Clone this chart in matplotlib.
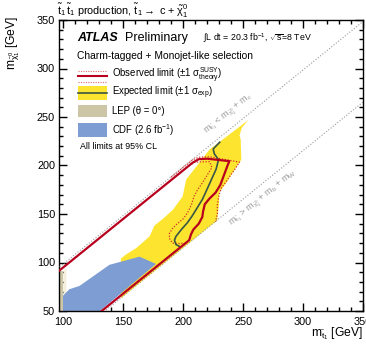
import numpy as np
import matplotlib
matplotlib.use('Agg')
import matplotlib.pyplot as plt
from matplotlib.patches import Rectangle, Polygon
from matplotlib.lines import Line2D

plt.rcParams['font.family'] = ['Liberation Sans', 'DejaVu Sans']
plt.rcParams['mathtext.fontset'] = 'custom'
plt.rcParams['mathtext.rm'] = 'Liberation Sans'
plt.rcParams['mathtext.it'] = 'Liberation Sans'
plt.rcParams['mathtext.bf'] = 'Liberation Sans:bold'
plt.rcParams['mathtext.sf'] = 'Liberation Sans'

# ---------------- data (GeV) ----------------
m_c = 1.5
m_b_plus_m_W = 84.6

x_ticks = [100, 150, 200, 250, 300, 350]
y_ticks = [50, 100, 150, 200, 250, 300, 350]

lep_x = [96, 100, 100, 96]
lep_y = [50, 50, 91, 91]
lep_light_x = [100, 102.5, 102.5, 100]
lep_light_y = [50, 50, 93.5, 91]

cdf_x = [97.7, 97.7, 100, 105, 113.5, 124.6, 138.5, 163.5, 177.4, 130.5]
cdf_y = [50, 63, 66, 72.4, 75.8, 85.5, 97.6, 106, 98.5, 50]

exp_band_x = [254.5, 222, 211, 202.5, 199.5, 191.5, 184, 176, 172, 161, 152, 148,
              148, 228.6, 228.6, 230, 230, 236, 241, 248.5, 248, 247, 249, 254.5]
exp_band_y = [247, 216.5, 199, 185.5, 168, 154.5, 146, 138, 127, 115, 108, 104,
              63, 143.6, 147.5, 160, 172, 182, 192, 206, 227, 231, 239, 247]

exp_x = [230.5, 225, 226, 229.5, 227.4, 223, 219, 216, 212.5, 207.5, 203.5, 198.5,
         194, 192.7, 194, 197]
exp_y = [224, 217, 212, 206, 196, 184, 173, 165, 158, 148, 141, 134,
         127, 123, 118.5, 116.5]

obs_x = [96, 208, 213, 220, 238.5, 237, 234, 231, 227, 222, 218, 216.5, 216, 213,
         208.5, 206.5, 205, 132]
obs_y = [91, 203, 206.5, 207, 204.5, 200, 190, 180, 172, 166, 160, 152, 147, 140,
         134, 129, 123, 50]

obs_up_x = [190, 208, 213, 222, 247, 243, 239, 235, 232, 230, 228.5, 228.5, 227]
obs_up_y = [188, 206, 208.5, 209, 203.5, 196, 189, 182, 177, 170, 160, 150, 142]

obs_dn_x = [205, 210, 222, 224, 220, 216, 212, 209, 207, 204, 200, 195, 191, 188.5,
            188.5, 191, 196, 201]
obs_dn_y = [200, 203.5, 204, 198, 190, 182, 175, 168, 160, 152, 145, 140, 135, 130,
            125, 120, 119.5, 120]

# ---------------- figure ----------------
W, H = 366, 349
fig = plt.figure(figsize=(W / 100, H / 100), dpi=100)
ax = fig.add_axes([58.5 / W, 1 - 311 / H, (363 - 58.5) / W, (311 - 20) / H])
ax.set_xlim(96, 350)
ax.set_ylim(50, 350)

def P(x, y):
    return (x / W, 1 - y / H)

YELLOW = '#fde52f'
BLUE = '#7d9dd3'
BEIGE = '#ccc6a6'
CREAM = '#f3efda'
RED = '#b8001e'
DOTRED = '#d0302a'
GREEN = '#3a5645'
GRAY = '#9a9a9a'

ax.add_patch(Polygon(np.column_stack([exp_band_x, exp_band_y]), closed=True,
                     facecolor=YELLOW, edgecolor='none', zorder=1))
ax.add_patch(Polygon(np.column_stack([lep_light_x, lep_light_y]), closed=True,
                     facecolor=CREAM, edgecolor='none', zorder=1.5))
ax.add_patch(Polygon(np.column_stack([cdf_x, cdf_y]), closed=True,
                     facecolor=BLUE, edgecolor='none', zorder=2))
ax.add_patch(Polygon(np.column_stack([lep_x, lep_y]), closed=True,
                     facecolor=BEIGE, edgecolor='none', zorder=2))

xx = np.array([0, 400])
ax.plot(xx, xx - m_c, color=GRAY, lw=0.8, ls=(0, (1, 1.6)), zorder=3)
ax.plot(xx, xx - m_b_plus_m_W, color=GRAY, lw=0.8, ls=(0, (1, 1.6)), zorder=3)

ax.plot(obs_up_x, obs_up_y, color=DOTRED, lw=0.9, ls=(0, (1, 1.3)), zorder=4)
ax.plot(obs_dn_x, obs_dn_y, color=DOTRED, lw=0.9, ls=(0, (1, 1.3)), zorder=4)
ax.plot(exp_x, exp_y, color=GREEN, lw=1.2, zorder=5)
ax.plot(obs_x, obs_y, color=RED, lw=1.6, zorder=6)

# diagonal labels
def screen_angle(x0, x1, off):
    p0 = ax.transData.transform((x0, x0 - off))
    p1 = ax.transData.transform((x1, x1 - off))
    return np.degrees(np.arctan2(p1[1] - p0[1], p1[0] - p0[0]))

ang = screen_angle(150, 300, 0)
ax.text(238, 253, r'm$_{\tilde{t}_1}$ < m$_{\tilde{\chi}^0_1}$ + m$_c$', rotation=ang,
        rotation_mode='anchor', ha='center', va='center', color=GRAY, fontsize=6.5,
        zorder=7)
ax.text(267, 166, r'm$_{\tilde{t}_1}$ > m$_{\tilde{\chi}^0_1}$ + m$_b$ + m$_W$',
        rotation=ang, rotation_mode='anchor', ha='center', va='center', color=GRAY,
        fontsize=6.5, zorder=7)

# axes styling
ax.set_xticks(x_ticks)
ax.set_yticks(y_ticks)
ax.set_xticklabels([str(v) for v in x_ticks])
ax.set_yticklabels([str(v) for v in y_ticks])
ax.set_xticks(np.arange(100, 351, 10), minor=True)
ax.set_yticks(np.arange(50, 351, 10), minor=True)
ax.tick_params(which='both', direction='in', top=True, right=True, labelsize=7.8,
               width=1.0, color='black')
ax.tick_params(axis='x', which='both', pad=4)
ax.tick_params(axis='y', which='both', pad=2.5)
ax.tick_params(which='major', length=6)
ax.tick_params(which='minor', length=3)
for s in ax.spines.values():
    s.set_linewidth(1.0)

fig.text(*P(363, 334), r'm$_{\tilde{t}_1}$ [GeV]', ha='right', va='center', fontsize=8.7)
fig.text(*P(13, 16), r'm$_{\tilde{\chi}^0_1}$ [GeV]', ha='center', va='top',
         rotation=90, fontsize=8.7)
fig.text(*P(57, 11), r'$\tilde{t}_1\,\tilde{t}_1$ production, $\tilde{t}_1\rightarrow$ c + $\tilde{\chi}^0_1$',
         ha='left', va='center', fontsize=7.8)

# annotations
fig.text(*P(77, 38), 'ATLAS', ha='left', va='center', fontsize=9,
         fontweight='bold', fontstyle='italic')
fig.text(*P(125, 38), 'Preliminary', ha='left', va='center', fontsize=9)
fig.text(*P(203, 38), r'$\int$L dt = 20.3 fb$^{-1}$, $\sqrt{s}$=8 TeV', ha='left',
         va='center', fontsize=6.3)
fig.text(*P(77, 56), 'Charm-tagged + Monojet-like selection', ha='left', va='center',
         fontsize=7.4)

# legend
lx0, lx1 = 78, 107
def add_box(y0, y1, color):
    x0, yb = P(lx0, y1)
    fig.patches.append(Rectangle((x0, yb), (lx1 - lx0) / W, (y1 - y0) / H,
                                 transform=fig.transFigure, facecolor=color,
                                 edgecolor='none', figure=fig))
def add_line(y, color, lw, ls='-'):
    fig.lines.append(Line2D([lx0 / W, lx1 / W], [1 - y / H, 1 - y / H],
                            transform=fig.transFigure, color=color, lw=lw, ls=ls,
                            figure=fig))

add_line(70.5, '#e06a6a', 0.8, (0, (1, 1.2)))
add_line(76, RED, 1.5)
add_line(81.5, '#e06a6a', 0.8, (0, (1, 1.2)))
add_box(86, 99.5, YELLOW)
add_line(92.5, GREEN, 1.2)
add_box(105, 117, BEIGE)
add_box(123.5, 136.5, BLUE)

tx = 112
fig.text(*P(tx, 75.5), r'Observed limit ($\pm$1 $\sigma^{\mathrm{SUSY}}_{\mathrm{theory}}$)',
         ha='left', va='center', fontsize=6.9)
fig.text(*P(tx, 93), r'Expected limit ($\pm$1 $\sigma_{\mathrm{exp}}$)', ha='left',
         va='center', fontsize=6.9)
fig.text(*P(tx, 111), 'LEP (θ = 0°)', ha='left', va='center', fontsize=6.9)
fig.text(*P(tx, 130), r'CDF (2.6 fb$^{-1}$)', ha='left', va='center', fontsize=6.9)
fig.text(*P(80, 146), 'All limits at 95% CL', ha='left', va='center', fontsize=6.4)

fig.savefig('out.png', dpi=100)
